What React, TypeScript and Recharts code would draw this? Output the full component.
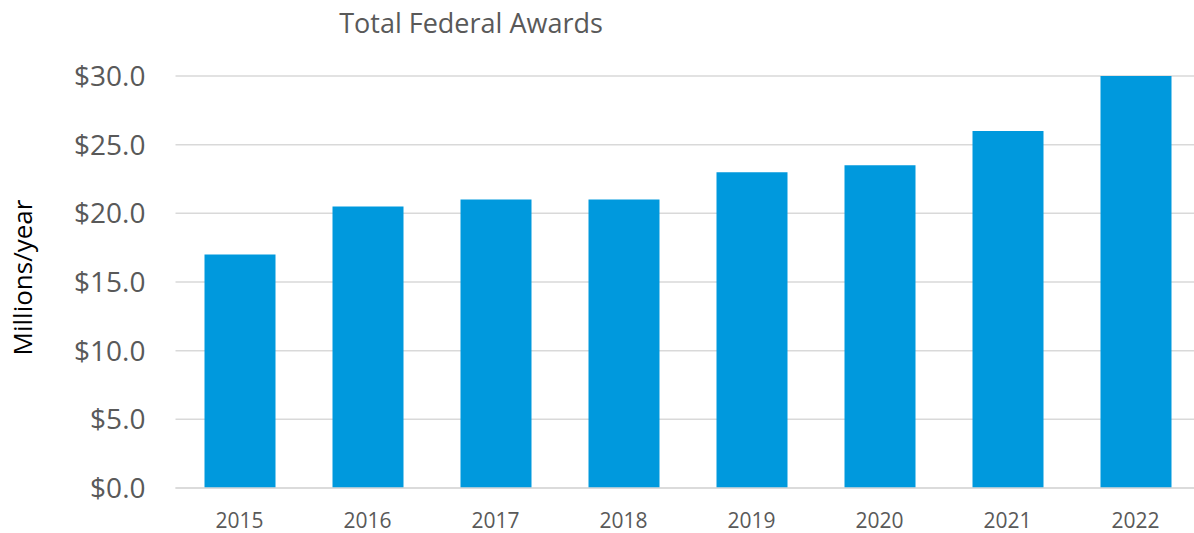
import React from 'react';
import { BarChart, Bar, XAxis, YAxis, CartesianGrid } from 'recharts';

const years = ['2015', '2016', '2017', '2018', '2019', '2020', '2021', '2022'];
const awards = [17, 20.5, 21, 21, 23, 23.5, 26, 30];
const yTicks = [0, 5, 10, 15, 20, 25, 30];

const data = years.map((y, i) => ({ year: y, value: awards[i] }));

const FONT = '"Open Sans", sans-serif';

export default function App() {
  return (
    <div style={{ position: 'fixed', left: 0, top: 0, width: 1194, height: 533, overflow: 'hidden', background: '#fff' }}>
      <BarChart
        width={1200}
        height={533}
        data={data}
        margin={{ top: 76, right: 0.5, bottom: 0, left: 0 }}
        barSize={71}
      >
        <CartesianGrid vertical={false} stroke="#d9d9d9" strokeWidth={1.5} />
        <XAxis
          dataKey="year"
          height={45}
          tickSize={0}
          tickMargin={25}
          axisLine={{ stroke: '#d9d9d9', strokeWidth: 1.5 }}
          tickLine={false}
          tick={{ fontFamily: FONT, fontSize: 21, fill: '#595959' }}
        />
        <YAxis
          width={175.5}
          domain={[0, 30]}
          ticks={yTicks}
          interval={0}
          tickSize={0}
          tickMargin={30}
          axisLine={false}
          tickLine={false}
          tickFormatter={(v: number) => `$${v.toFixed(1)}`}
          tick={{ fontFamily: FONT, fontSize: 28, fill: '#595959' }}
        />
        <Bar dataKey="value" fill="#0099dd" isAnimationActive={false} />
      </BarChart>
      <svg width={1194} height={533} style={{ position: 'absolute', left: 0, top: 0, pointerEvents: 'none' }}>
        <text x={471} y={33} textAnchor="middle" fontFamily={FONT} fontSize={27} fill="#595959">
          Total Federal Awards
        </text>
        <text
          x={0}
          y={0}
          transform="translate(32,277.5) rotate(-90)"
          textAnchor="middle"
          fontFamily={FONT}
          fontSize={26}
          fill="#000"
        >
          Millions/year
        </text>
      </svg>
    </div>
  );
}
